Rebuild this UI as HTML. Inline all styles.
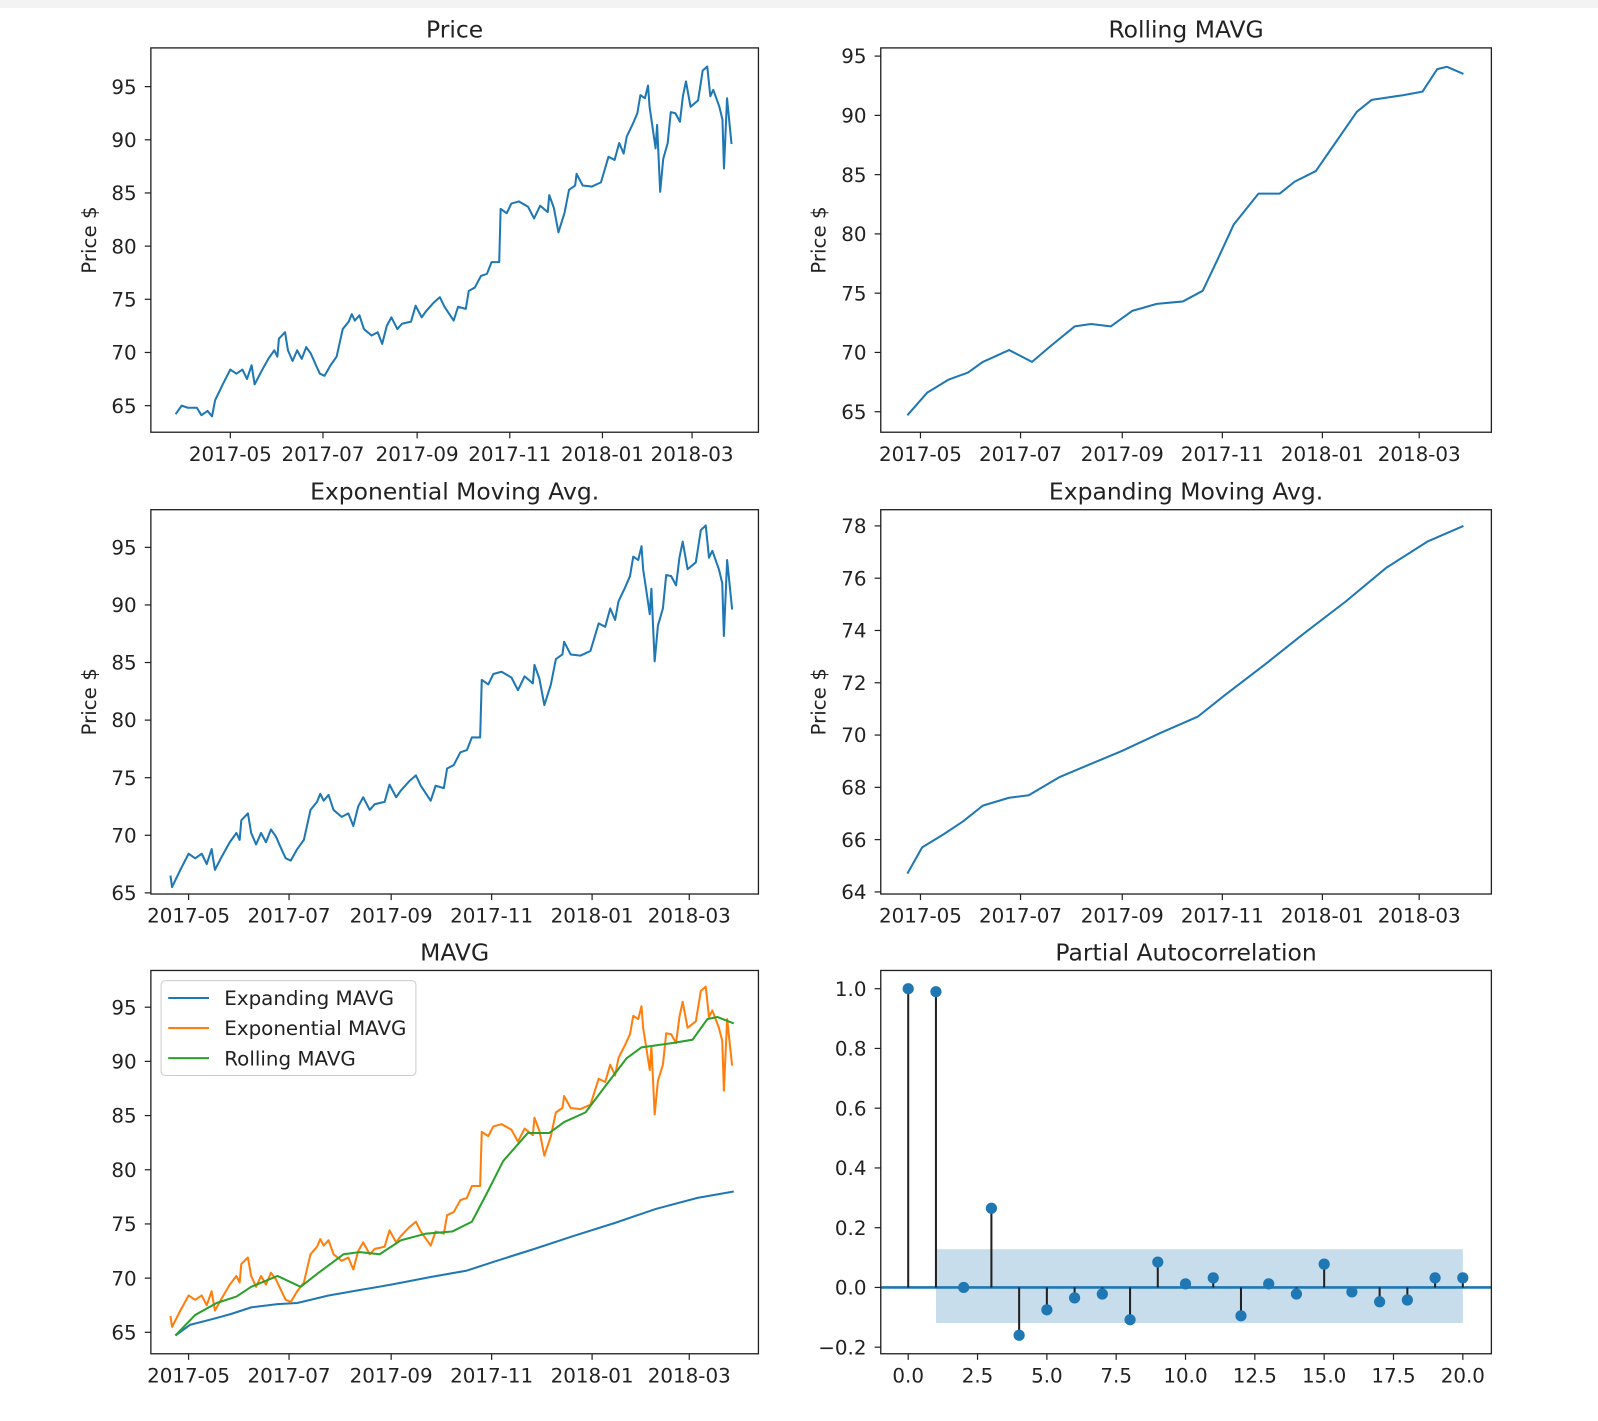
<!DOCTYPE html>
<html><head><meta charset="utf-8"><style>
html,body{margin:0;padding:0;background:#fff;}
svg text{font-family:"DejaVu Sans","Liberation Sans",sans-serif;fill:#222;}
</style></head><body>
<svg id="fig" xmlns="http://www.w3.org/2000/svg" width="1598" height="1416" viewBox="0 0 1598 1416">
<rect x="0" y="0" width="1598" height="1416" fill="#fff"/>
<rect x="0" y="0" width="1598" height="8" fill="#f3f3f3"/>
<g id="root" transform="scale(1.0194)"></g>
</svg>
<script>
// ---- data (days relative to 2017-05-01) ----
const priceDays=[-36,-32,-28,-22,-19,-15,-12,-10,-5,0,4,8,11,14,16,20,25,29,31,32,36,38,41,44,47,50,53,57,59,62,66,70,74,78,80,82,85,88,93,97,100,103,106,110,113,119,122,126,129,134,138,141,147,150,155,157,161,165,169,172,177,178,182,185,190,196,200,204,209,210,213,216,220,223,227,228,232,238,244,249,253,256,259,261,265,268,270,273,275,276,278,280,281,283,285,288,290,293,296,298,300,303,308,311,314,316,318,322,324,325,327,330];
const priceVals=[64.2,65.0,64.8,64.8,64.1,64.5,64.0,65.5,67.0,68.4,68.0,68.4,67.5,68.8,67.0,68.1,69.4,70.2,69.6,71.3,71.9,70.2,69.2,70.2,69.4,70.5,69.9,68.6,68.0,67.8,68.8,69.6,72.2,72.9,73.6,73.0,73.5,72.2,71.6,71.9,70.8,72.5,73.3,72.2,72.7,72.9,74.4,73.3,73.9,74.7,75.2,74.3,73.0,74.3,74.1,75.8,76.1,77.2,77.4,78.5,78.5,83.5,83.1,84.0,84.2,83.7,82.6,83.8,83.2,84.8,83.6,81.3,83.1,85.3,85.7,86.8,85.7,85.6,86.0,88.4,88.1,89.7,88.7,90.3,91.5,92.5,94.2,93.9,95.1,93.1,91.2,89.2,91.4,85.1,88.2,89.7,92.6,92.5,91.7,94.1,95.5,93.1,93.7,96.5,96.9,94.1,94.7,93.1,91.9,87.3,93.9,89.6];
const emaStartDay=-11;
const emaStartVal=66.5;
const rollDays=[-8,4,17,29,38,54,68,79,94,104,116,129,144,160,172,181,191,206,219,228,241,253,266,275,294,306,315,321,331];
const rollVals=[64.7,66.6,67.7,68.3,69.2,70.2,69.2,70.5,72.2,72.4,72.2,73.5,74.1,74.3,75.2,77.8,80.8,83.4,83.4,84.4,85.3,87.7,90.3,91.3,91.7,92.0,93.9,94.1,93.5];
const expDays=[-8,1,14,26,38,54,66,85,104,123,147,169,185,210,234,259,284,309,331];
const expVals=[64.7,65.7,66.2,66.7,67.3,67.6,67.7,68.4,68.9,69.4,70.1,70.7,71.5,72.7,73.9,75.1,76.4,77.4,78.0];
const pacfLags=[0,1,2,3,4,5,6,7,8,9,10,11,12,13,14,15,16,17,18,19,20];
const pacfVals=[1.0,0.99,0.0,0.265,-0.16,-0.075,-0.035,-0.022,-0.108,0.085,0.012,0.032,-0.095,0.012,-0.022,0.078,-0.015,-0.048,-0.042,0.032,0.032];
const confUpper=0.128;
const confLower=-0.119;
const dateTickDays=[0,61,123,184,245,304];
const dateTickLabels=['2017-05','2017-07','2017-09','2017-11','2018-01','2018-03'];
const priceTicks=[65,70,75,80,85,90,95];
const expTicks=[64,66,68,70,72,74,76,78];
const pacfXTicks=[0,2.5,5,7.5,10,12.5,15,17.5,20];
const pacfXLabels=['0.0','2.5','5.0','7.5','10.0','12.5','15.0','17.5','20.0'];
const pacfYTicks=[-0.2,0,0.2,0.4,0.6,0.8,1.0];
const pacfYLabels=['\u22120.2','0.0','0.2','0.4','0.6','0.8','1.0'];

const NS='http://www.w3.org/2000/svg';
const svg=document.getElementById('root');
function mk(tag,attrs,parent){const e=document.createElementNS(NS,tag);for(const k in attrs)e.setAttribute(k,attrs[k]);(parent||svg).appendChild(e);return e;}

function panel(p){
  const g=mk('g',{});
  
  
  p.g=g;
  p.sx=v=>p.l+(v-p.xmin)/(p.xmax-p.xmin)*(p.r-p.l);
  p.sy=v=>p.b-(v-p.ymin)/(p.ymax-p.ymin)*(p.b-p.t);
  const t=mk('text',{x:(p.l+p.r)/2,y:p.t-10,'text-anchor':'middle','font-size':'23'},g);
  t.textContent=p.title;
  
  
  if(p.ylabel){
    const yl=mk('text',{x:0,y:0,'text-anchor':'middle','font-size':'19.5',transform:`translate(${p.l-54},${(p.t+p.b)/2}) rotate(-90)`},g);
    yl.textContent=p.ylabel;
    
    
  }
  p.xticks.forEach((v,i)=>{
    const x=p.sx(v);
    mk('line',{x1:x,x2:x,y1:p.b,y2:p.b+6,stroke:'#222','stroke-width':1.2},g);
    const tx=mk('text',{x:x,y:p.b+28,'text-anchor':'middle','font-size':'19.5'},g);
    tx.textContent=p.xlabels[i];
    
    
  });
  p.yticks.forEach((v,i)=>{
    const y=p.sy(v);
    mk('line',{x1:p.l-6,x2:p.l,y1:y,y2:y,stroke:'#222','stroke-width':1.2},g);
    const ty=mk('text',{x:p.l-14,y:y+7,'text-anchor':'end','font-size':'19.5'},g);
    ty.textContent=p.ylabels?p.ylabels[i]:String(v);
    
    
  });
  return p;
}
function frame(p){
  const f=mk('rect',{x:p.l,y:p.t,width:p.r-p.l,height:p.b-p.t,fill:'none',stroke:'#222','stroke-width':1.3},p.g);
  
  
}
function line(p,xs,ys,color,name){
  const d=xs.map((x,i)=>(i?'L':'M')+p.sx(x).toFixed(1)+' '+p.sy(ys[i]).toFixed(1)).join(' ');
  const e=mk('path',{d:d,fill:'none',stroke:color,'stroke-width':2,'stroke-linejoin':'round'},p.g);
  
  
}
const emaDays=[emaStartDay].concat(priceDays.filter(d=>d>=-10));
const emaVals=[emaStartVal].concat(priceVals.filter((v,i)=>priceDays[i]>=-10));

// Price
const p1=panel({name:'price-chart',l:148,r:744,t:47,b:424,xmin:-52.3,xmax:347.7,ymin:62.5,ymax:98.64,title:'Price',ylabel:'Price $',xticks:dateTickDays,xlabels:dateTickLabels,yticks:priceTicks});
line(p1,priceDays,priceVals,'#1f77b4','price-line');frame(p1);
// Rolling
const p2=panel({name:'rolling-mavg-chart',l:864,r:1463,t:47,b:424,xmin:-24.2,xmax:348,ymin:63.27,ymax:95.69,title:'Rolling MAVG',ylabel:'Price $',xticks:dateTickDays,xlabels:dateTickLabels,yticks:priceTicks});
line(p2,rollDays,rollVals,'#1f77b4','rolling-line');frame(p2);
// EMA
const p3=panel({name:'ema-chart',l:148,r:744,t:500,b:877,xmin:-22.9,xmax:346,ymin:64.9,ymax:98.27,title:'Exponential Moving Avg.',ylabel:'Price $',xticks:dateTickDays,xlabels:dateTickLabels,yticks:priceTicks});
line(p3,emaDays,emaVals,'#1f77b4','ema-line');frame(p3);
// Expanding
const p4=panel({name:'expanding-chart',l:864,r:1463,t:500,b:877,xmin:-24.2,xmax:348,ymin:63.92,ymax:78.62,title:'Expanding Moving Avg.',ylabel:'Price $',xticks:dateTickDays,xlabels:dateTickLabels,yticks:expTicks});
line(p4,expDays,expVals,'#1f77b4','expanding-line');frame(p4);
// MAVG
const p5=panel({name:'mavg-chart',l:148,r:744,t:952,b:1328,xmin:-22.9,xmax:346,ymin:63.02,ymax:98.39,title:'MAVG',xticks:dateTickDays,xlabels:dateTickLabels,yticks:priceTicks});
line(p5,expDays,expVals,'#1f77b4','expanding-mavg-line');
line(p5,emaDays,emaVals,'#ff7f0e','exponential-mavg-line');
line(p5,rollDays,rollVals,'#2ca02c','rolling-mavg-line');
frame(p5);
const lg=mk('g',{},p5.g);


mk('rect',{x:158,y:962,width:250,height:93,rx:4,fill:'#fff','fill-opacity':0.85,stroke:'#ccc','stroke-width':1},lg);
[['Expanding MAVG','#1f77b4'],['Exponential MAVG','#ff7f0e'],['Rolling MAVG','#2ca02c']].forEach((e,i)=>{
  const y=979+i*29.5;
  const ln=mk('line',{x1:165,x2:205,y1:y,y2:y,stroke:e[1],'stroke-width':2},lg);
  
  
  const tx=mk('text',{x:220,y:y+7,'font-size':'19.5'},lg);
  tx.textContent=e[0];
  
  
});
// PACF
const p6=panel({name:'pacf-chart',l:864,r:1463,t:952,b:1328,xmin:-0.99,xmax:21.03,ymin:-0.222,ymax:1.061,title:'Partial Autocorrelation',xticks:pacfXTicks,xlabels:pacfXLabels,yticks:pacfYTicks,ylabels:pacfYLabels});
const band=mk('rect',{x:p6.sx(pacfLags[1]),y:p6.sy(confUpper),width:p6.sx(pacfLags[pacfLags.length-1])-p6.sx(pacfLags[1]),height:p6.sy(confLower)-p6.sy(confUpper),fill:'#1f77b4','fill-opacity':0.25},p6.g);


const zl=mk('line',{x1:p6.l,x2:p6.r,y1:p6.sy(0),y2:p6.sy(0),stroke:'#1f77b4','stroke-width':2.5},p6.g);


pacfLags.forEach((lag,i)=>{
  const x=p6.sx(lag);
  const st=mk('line',{x1:x,x2:x,y1:p6.sy(0),y2:p6.sy(pacfVals[i]),stroke:'#222','stroke-width':2},p6.g);
  
  
  const c=mk('circle',{cx:x,cy:p6.sy(pacfVals[i]),r:5.5,fill:'#1f77b4'},p6.g);
  
  
});
frame(p6);
</script>
</body></html>
